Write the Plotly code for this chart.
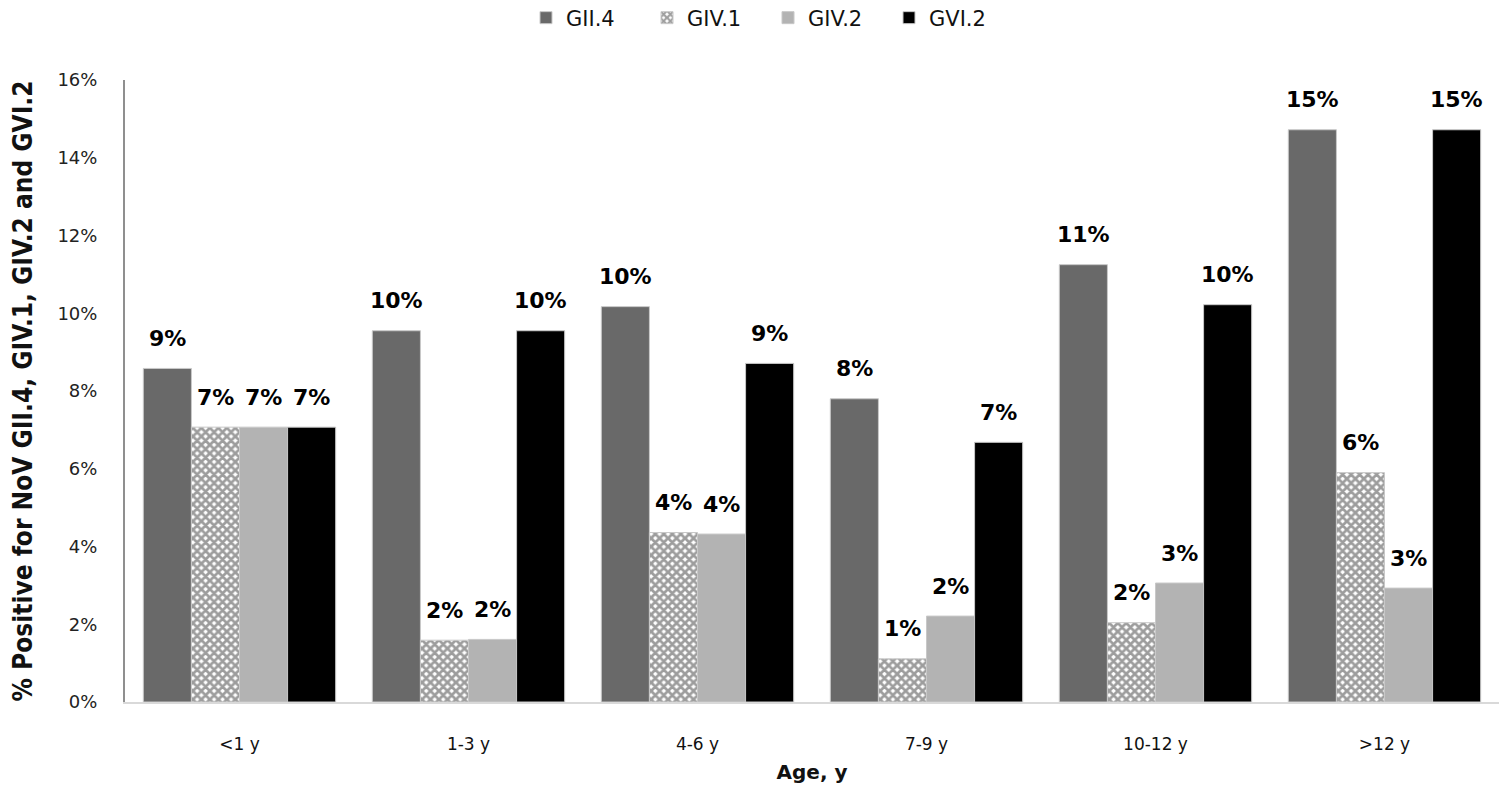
import plotly.graph_objects as go

categories = ["<1 y", "1-3 y", "4-6 y", "7-9 y", "10-12 y", ">12 y"]
series_names = ["GII.4", "GIV.1", "GIV.2", "GVI.2"]
gii4 = [8.58, 9.55, 10.17, 7.80, 11.25, 14.72]
giv1 = [7.07, 1.59, 4.36, 1.11, 2.04, 5.90]
giv2 = [7.07, 1.61, 4.32, 2.21, 3.06, 2.93]
gvi2 = [7.07, 9.55, 8.71, 6.68, 10.22, 14.72]
y_ticks = [0, 2, 4, 6, 8, 10, 12, 14, 16]

W, H = 1509, 802
ML, MR, MT, MB = 117, 18, 72, 108
BARGAP = 0.16

fig = go.Figure()

def add(name, vals, color, pattern=None):
    marker = dict(color=color, line=dict(color="#c8c8c8", width=1))
    if pattern:
        marker["pattern"] = pattern
    fig.add_trace(go.Bar(name=name, x=categories, y=vals, marker=marker,
                         hoverinfo="x+y+name"))

all_series = [gii4, giv1, giv2, gvi2]
add(series_names[0], gii4, "#696969")
add(series_names[1], giv1, "#ffffff",
    dict(shape="x", fgcolor="#3c3c3c", bgcolor="#ffffff", size=6, solidity=0.7))
add(series_names[2], giv2, "#b3b3b3")
add(series_names[3], gvi2, "#000000")

# value labels above each bar
plot_w = W - ML - MR
bar_px = plot_w / len(categories) * (1 - BARGAP) / len(all_series)
for i, vals in enumerate(all_series):
    for c, v in zip(categories, vals):
        fig.add_annotation(x=c, y=v, xref="x", yref="y", text=f"<b>{v:.0f}%</b>",
                           showarrow=False, xshift=(i - 1.5) * bar_px, yshift=30,
                           yanchor="middle",
                           font=dict(family="DejaVu Sans", size=22, color="#000"))

fig.update_layout(
    width=W, height=H,
    margin=dict(l=ML, r=MR, t=MT, b=MB),
    paper_bgcolor="white", plot_bgcolor="white",
    barmode="group", bargap=BARGAP, bargroupgap=0.0,
    font=dict(family="DejaVu Sans", color="#222222"),
    legend=dict(orientation="h", x=760 / W, xref="container", xanchor="center",
                y=1 - 10 / H, yref="container", yanchor="middle",
                font=dict(size=21, family="DejaVu Sans", color="#111"),
                entrywidth=76, entrywidthmode="pixels", itemwidth=30),
    showlegend=True,
)
fig.update_yaxes(
    range=[0, 16], tickvals=y_ticks, ticktext=[f"{v}%" for v in y_ticks],
    showgrid=False, zeroline=False, showline=True, linecolor="#8f8f8f", linewidth=2,
    ticks="", ticklabelstandoff=22, tickfont=dict(size=18, color="#222"),
    title=dict(text="<b>% Positive for NoV GII.4, GIV.1, GIV.2 and GVI.2</b>",
               font=dict(family="DejaVu Sans Condensed, DejaVu Sans", size=26, color="#111"),
               standoff=22),
    automargin=False,
)
fig.update_xaxes(
    showgrid=False, showline=True, linecolor="#d9d9d9", linewidth=2, ticks="",
    tickfont=dict(size=17, color="#111"), ticklabelstandoff=26,
    title=dict(text="<b>Age, y</b>", font=dict(family="DejaVu Sans", size=20, color="#111"),
               standoff=12),
    automargin=False,
)

fig.write_html("out.html")
